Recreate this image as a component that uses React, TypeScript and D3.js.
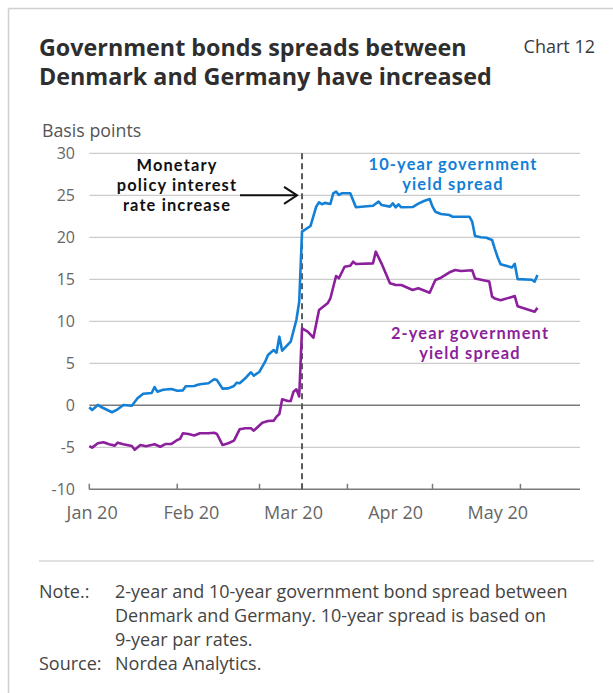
import React from "react";
import * as d3 from "d3";

const W = 613;
const H = 693;

// 10-year spread (basis points)
const tenYearDates = [
  "2020-01-01","2020-01-02","2020-01-04","2020-01-05","2020-01-09","2020-01-11","2020-01-13","2020-01-16",
  "2020-01-18","2020-01-20","2020-01-23","2020-01-24","2020-01-25","2020-01-27","2020-01-30","2020-02-01",
  "2020-02-03","2020-02-04","2020-02-07","2020-02-08","2020-02-09","2020-02-12","2020-02-14","2020-02-15",
  "2020-02-17","2020-02-19","2020-02-21","2020-02-22","2020-02-23","2020-02-25","2020-02-26","2020-02-27",
  "2020-02-28","2020-03-01","2020-03-03","2020-03-04","2020-03-06","2020-03-07","2020-03-08","2020-03-09",
  "2020-03-12","2020-03-14","2020-03-15","2020-03-16","2020-03-19","2020-03-21","2020-03-22","2020-03-23",
  "2020-03-24","2020-03-26","2020-03-27","2020-03-28","2020-03-29","2020-03-30","2020-04-02","2020-04-04",
  "2020-04-10","2020-04-12","2020-04-13","2020-04-16","2020-04-17","2020-04-18","2020-04-19","2020-04-20",
  "2020-04-24","2020-04-26","2020-04-28","2020-04-30","2020-05-01","2020-05-02","2020-05-04","2020-05-07",
  "2020-05-08","2020-05-14","2020-05-15","2020-05-16","2020-05-18","2020-05-20","2020-05-22","2020-05-23",
  "2020-05-24","2020-05-25","2020-05-29","2020-05-30","2020-05-31","2020-06-05","2020-06-06","2020-06-07"
];
const tenYearValues = [
  -0.24,-0.56,0.04,-0.17,-0.83,-0.48,0.04,-0.05,
  0.83,1.38,1.46,2.18,1.62,1.86,1.94,1.74,
  1.78,2.26,2.3,2.42,2.5,2.62,3.1,3.0,
  1.98,2.02,2.3,2.69,2.62,3.21,3.6,3.93,
  3.52,4.0,5.19,5.99,6.58,6.26,8.17,6.5,
  7.57,10.15,12.3,20.67,21.35,23.65,24.17,23.93,
  24.1,23.96,25.24,25.43,25.04,25.24,25.24,23.57,
  23.76,24.24,23.85,23.65,24.05,23.57,23.93,23.57,
  23.6,24.0,24.32,24.56,23.65,23.05,22.77,22.65,
  22.45,22.45,21.86,20.15,20.0,19.95,19.68,18.6,
  17.6,16.8,16.4,16.85,15.02,14.95,14.71,15.51
];

// 2-year spread (basis points)
const twoYearDates = [
  "2020-01-01","2020-01-02","2020-01-04","2020-01-06","2020-01-08","2020-01-10","2020-01-11","2020-01-13",
  "2020-01-16","2020-01-17","2020-01-19","2020-01-21","2020-01-24","2020-01-26","2020-01-28","2020-01-30",
  "2020-02-01","2020-02-02","2020-02-03","2020-02-05","2020-02-07","2020-02-09","2020-02-12","2020-02-14",
  "2020-02-15","2020-02-17","2020-02-19","2020-02-21","2020-02-23","2020-02-25","2020-02-27","2020-02-28",
  "2020-02-29","2020-03-02","2020-03-04","2020-03-06","2020-03-07","2020-03-08","2020-03-09","2020-03-11",
  "2020-03-12","2020-03-13","2020-03-14","2020-03-15","2020-03-16","2020-03-18","2020-03-20","2020-03-22",
  "2020-03-25","2020-03-26","2020-03-28","2020-03-29","2020-03-31","2020-04-02","2020-04-03","2020-04-04",
  "2020-04-10","2020-04-11","2020-04-13","2020-04-16","2020-04-18","2020-04-20","2020-04-24","2020-04-26",
  "2020-04-30","2020-05-02","2020-05-04","2020-05-07","2020-05-09","2020-05-11","2020-05-15","2020-05-16",
  "2020-05-21","2020-05-22","2020-05-23","2020-05-25","2020-05-29","2020-05-30","2020-05-31","2020-06-06",
  "2020-06-07"
];
const twoYearValues = [
  -4.85,-5.04,-4.52,-4.4,-4.64,-4.8,-4.45,-4.64,
  -4.85,-5.3,-4.73,-4.88,-4.64,-4.93,-4.6,-4.6,
  -4.13,-4.0,-3.33,-3.42,-3.6,-3.33,-3.33,-3.26,
  -3.42,-4.73,-4.52,-4.21,-2.86,-2.74,-2.74,-3.02,
  -2.7,-2.07,-1.87,-1.83,-1.35,-1.04,0.71,0.51,
  0.51,1.62,1.9,1.05,9.17,8.77,8.05,11.35,
  12.14,12.74,15.39,15.12,16.5,16.62,17.1,16.82,
  16.9,18.29,16.9,14.52,14.32,14.32,13.73,13.93,
  13.4,14.92,15.19,15.83,16.1,15.99,16.07,15.1,
  14.75,12.93,12.7,12.5,12.9,13.0,11.8,11.14,
  11.6
];

const yTicks = [-10, -5, 0, 5, 10, 15, 20, 25, 30];
const monthLabels = ["Jan 20", "Feb 20", "Mar 20", "Apr 20", "May 20"];
const monthLabelDates = ["2020-01-02", "2020-02-06", "2020-03-13", "2020-04-18", "2020-05-24"];
const eventDate = "2020-03-16";

const titleLines = ["Government bonds spreads between", "Denmark and Germany have increased"];
const eventLabel = ["Monetary", "policy interest", "rate increase"];
const tenYearLabel = ["10-year government", "yield spread"];
const twoYearLabel = ["2-year government", "yield spread"];
const noteLines = [
  "2-year and 10-year government bond spread between",
  "Denmark and Germany. 10-year spread is based on",
  "9-year par rates.",
];

const BLUE = "#1380d6";
const PURPLE = "#8c1f9c";
const FONT = "'Open Sans', 'Noto Sans', sans-serif";
const LABEL_FONT = "Lato, 'Open Sans', sans-serif";

export default function App() {
  const parse = d3.utcParse("%Y-%m-%d");
  const x = d3
    .scaleUtc()
    .domain([new Date(Date.UTC(2020, 0, 1)), new Date(Date.UTC(2020, 5, 22))])
    .range([89.3, 580]);
  const y = d3.scaleLinear().domain([-10, 30]).range([489.3, 153.3]);

  const blue = tenYearDates.map((d, i) => ({ d: parse(d)!, v: tenYearValues[i] }));
  const purple = twoYearDates.map((d, i) => ({ d: parse(d)!, v: twoYearValues[i] }));
  const line = d3
    .line<{ d: Date; v: number }>()
    .x((p) => x(p.d))
    .y((p) => y(p.v));

  const monthTicks = d3.utcMonth.range(new Date(Date.UTC(2020, 0, 1)), new Date(Date.UTC(2020, 5, 2)));
  const [x0, x1] = x.range();
  const ev = x(parse(eventDate)!);
  const arrowY = y(25);

  const labelProps = {
    fontSize: 16.4,
    fontFamily: LABEL_FONT,
    fontWeight: 700,
    textAnchor: "middle" as const,
    letterSpacing: 1.15,
  };

  return (
    <svg
      width={W}
      height={H}
      style={{ position: "absolute", left: 0, top: 0, background: "#fff" }}
      fontFamily={FONT}
    >
      {/* frame */}
      <line x1={8.5} y1={8.5} x2={W} y2={8.5} stroke="#cfcfcf" strokeWidth={1.5} />
      <line x1={8.5} y1={8.5} x2={8.5} y2={H} stroke="#cfcfcf" strokeWidth={1.5} />

      {/* title */}
      {titleLines.map((t, i) => (
        <text key={i} x={39} y={56 + i * 29} fontSize={23.3} fontWeight={700} fill="#2e2e2e">
          {t}
        </text>
      ))}
      <text x={595} y={53} fontSize={18} textAnchor="end" fill="#3a3a3a">
        Chart 12
      </text>
      <text x={42} y={137} fontSize={17.8} fill="#555">
        Basis points
      </text>

      {/* gridlines */}
      {yTicks.map((t) => (
        <g key={t}>
          {t !== 0 && t !== -10 && (
            <line x1={x0} x2={x1} y1={y(t)} y2={y(t)} stroke="#cccccc" strokeWidth={1.2} />
          )}
          <text x={75} y={y(t) + 5.5} fontSize={16} textAnchor="end" fill="#666">
            {t}
          </text>
        </g>
      ))}
      <line x1={x0} x2={x1} y1={y(0)} y2={y(0)} stroke="#7a7a7a" strokeWidth={1.5} />

      {/* x axis */}
      <line x1={x0} x2={x1} y1={y(-10)} y2={y(-10)} stroke="#7a7a7a" strokeWidth={1.5} />
      {monthTicks.map((m, i) => (
        <line key={i} x1={x(m)} x2={x(m)} y1={y(-10)} y2={y(-10) - 5.5} stroke="#7a7a7a" strokeWidth={1.5} />
      ))}
      {monthLabels.map((l, i) => (
        <text key={l} x={x(parse(monthLabelDates[i])!)} y={518.5} fontSize={18} textAnchor="middle" fill="#666">
          {l}
        </text>
      ))}

      {/* event line */}
      <line x1={ev} x2={ev} y1={y(30)} y2={y(-10)} stroke="#5a5a5a" strokeWidth={2} strokeDasharray="6,4" />

      {/* series */}
      <path d={line(purple)!} fill="none" stroke={PURPLE} strokeWidth={2.6} strokeLinejoin="round" />
      <path d={line(blue)!} fill="none" stroke={BLUE} strokeWidth={2.6} strokeLinejoin="round" />

      {/* annotation */}
      {eventLabel.map((t, i) => (
        <text key={t} x={177} y={171 + i * 19.8} fill="#111" {...labelProps}>
          {t}
        </text>
      ))}
      <line x1={240} x2={ev - 5} y1={arrowY} y2={arrowY} stroke="#111" strokeWidth={2} />
      <polyline
        points={`${ev - 18},${arrowY - 8.5} ${ev - 5},${arrowY} ${ev - 18},${arrowY + 8.5}`}
        fill="none"
        stroke="#111"
        strokeWidth={2}
      />

      {tenYearLabel.map((t, i) => (
        <text key={t} x={453} y={170 + i * 20} fill={BLUE} {...labelProps}>
          {t}
        </text>
      ))}
      {twoYearLabel.map((t, i) => (
        <text key={t} x={470} y={339 + i * 20} fill={PURPLE} {...labelProps}>
          {t}
        </text>
      ))}

      {/* footer */}
      <line x1={39} x2={594} y1={561} y2={561} stroke="#c4c4c4" strokeWidth={1.2} />
      <text x={39} y={598} fontSize={18} fill="#444">
        Note.:
      </text>
      {noteLines.map((t, i) => (
        <text key={i} x={115} y={598 + i * 24} fontSize={18} fill="#444">
          {t}
        </text>
      ))}
      <text x={39} y={670} fontSize={18} fill="#444">
        Source:
      </text>
      <text x={115} y={670} fontSize={18} fill="#444">
        Nordea Analytics.
      </text>
    </svg>
  );
}
